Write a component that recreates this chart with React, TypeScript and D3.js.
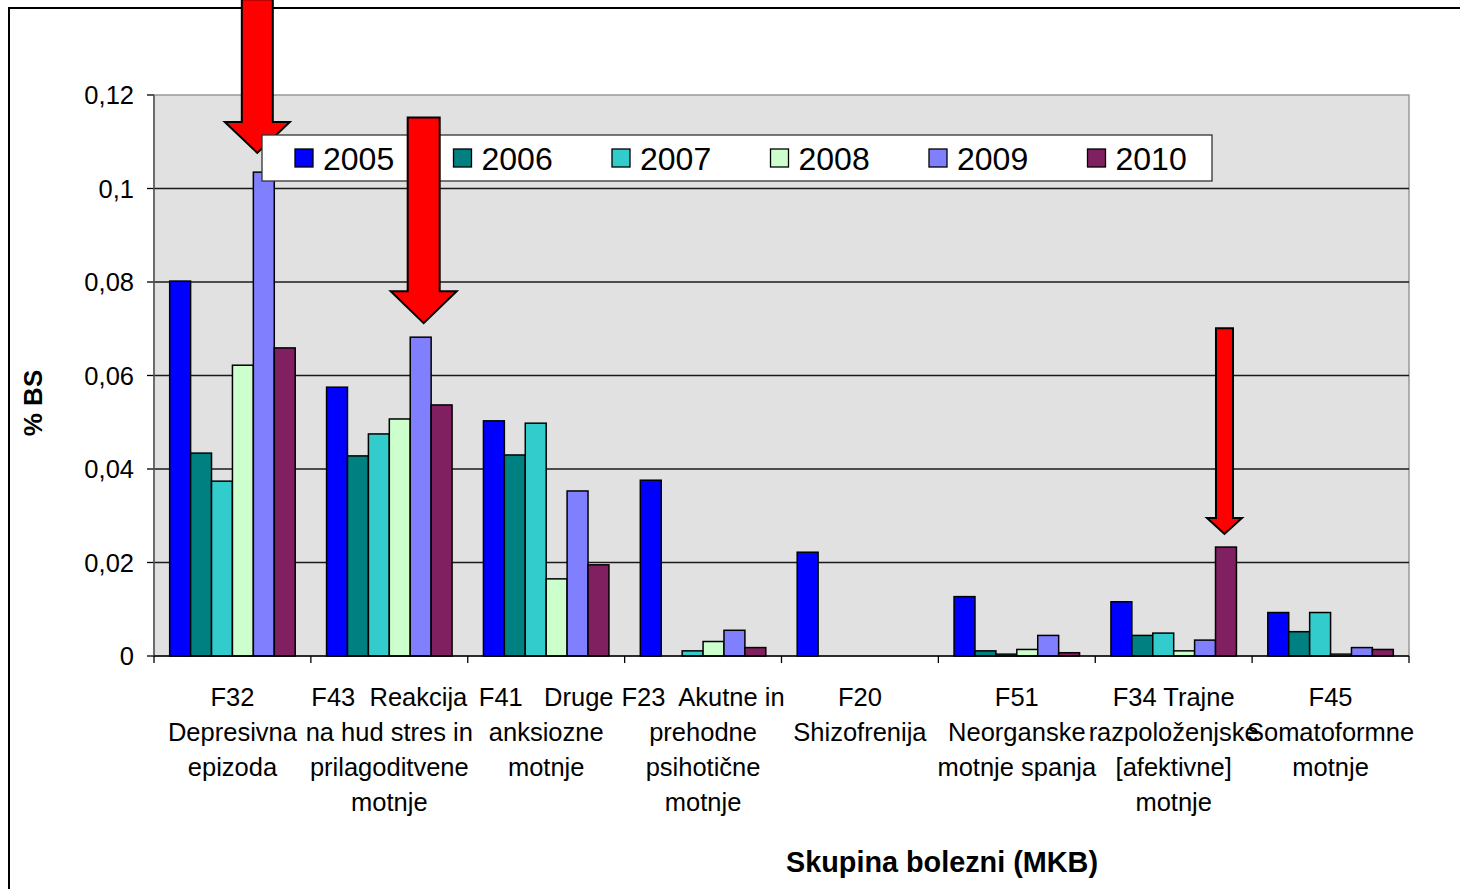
import React from 'react';
import * as d3 from 'd3';

const categories: string[][] = [
  ['F32', 'Depresivna', 'epizoda'],
  ['F43  Reakcija', 'na hud stres in', 'prilagoditvene', 'motnje'],
  ['F41   Druge', 'anksiozne', 'motnje'],
  ['F23  Akutne in', 'prehodne', 'psihotične', 'motnje'],
  ['F20', 'Shizofrenija'],
  ['F51', 'Neorganske', 'motnje spanja'],
  ['F34 Trajne', 'razpoloženjske', '[afektivne]', 'motnje'],
  ['F45', 'Somatoformne', 'motnje'],
];

const years = ['2005', '2006', '2007', '2008', '2009', '2010'];
const colors = ['#0000FF', '#008080', '#33CCCC', '#CCFFCC', '#8080FF', '#802060'];

const v2005 = [0.0802, 0.0575, 0.0503, 0.0376, 0.0222, 0.0127, 0.0116, 0.0093];
const v2006 = [0.0434, 0.0428, 0.043, 0, 0, 0.0011, 0.0044, 0.0052];
const v2007 = [0.0374, 0.0475, 0.0498, 0.0011, 0, 0.0004, 0.0049, 0.0093];
const v2008 = [0.0622, 0.0507, 0.0165, 0.0031, 0, 0.0014, 0.0011, 0.0004];
const v2009 = [0.1035, 0.0682, 0.0353, 0.0055, 0, 0.0044, 0.0034, 0.0018];
const v2010 = [0.0659, 0.0537, 0.0195, 0.0018, 0, 0.0007, 0.0233, 0.0014];
const series = [v2005, v2006, v2007, v2008, v2009, v2010];

const yTicks = [0, 0.02, 0.04, 0.06, 0.08, 0.1, 0.12];
const tickLabels = ['0', '0,02', '0,04', '0,06', '0,08', '0,1', '0,12'];

// arrows: category, year index, value at the tip, value at the top of the shaft
const arrows = [
  { cat: 0, yr: 4, tip: 0.1076, top: 0.1405, dx: -6.5, shaft: 31, head: 65, headLen: 31 },
  { cat: 1, yr: 4, tip: 0.0712, top: 0.1152, dx: 3, shaft: 32, head: 66, headLen: 32 },
  { cat: 6, yr: 5, tip: 0.0261, top: 0.0701, dx: -1.5, shaft: 17, head: 35, headLen: 16 },
];

const font = 'Arial, "Liberation Sans", sans-serif';

export default function App() {
  const left = 154;
  const right = 1409;
  const top = 95;
  const bottom = 656;

  const x0 = d3.scaleBand<number>().domain(d3.range(categories.length)).range([left, right]);
  const bw = x0.bandwidth();
  const x1 = d3.scaleBand<number>().domain(d3.range(years.length)).range([bw * 0.1, bw * 0.9]);
  const y = d3.scaleLinear().domain([0, 0.12]).range([bottom, top]);

  const arrowPath = (a: typeof arrows[number]) => {
    const cx = (x0(a.cat) ?? 0) + (x1(a.yr) ?? 0) + x1.bandwidth() / 2 + a.dx;
    const tipY = y(a.tip);
    const topY = y(a.top);
    const neck = tipY - a.headLen;
    const s = a.shaft / 2;
    const h = a.head / 2;
    return `M${cx - s},${topY} L${cx + s},${topY} L${cx + s},${neck} L${cx + h},${neck} L${cx},${tipY} L${cx - h},${neck} L${cx - s},${neck} Z`;
  };

  return (
    <svg
      width={1460}
      height={889}
      style={{ position: 'fixed', left: 0, top: 0, display: 'block', fontFamily: font, background: '#fff' }}
    >
      <rect x={9} y={8} width={1500} height={1000} fill="#fff" stroke="#000" strokeWidth={2} />
      <rect x={left} y={top} width={right - left} height={bottom - top} fill="#E1E1E1" stroke="#999" strokeWidth={1.5} />
      {yTicks.map((t, i) => (
        <g key={t}>
          {i > 0 && i < yTicks.length - 1 && (
            <line x1={left} x2={right} y1={y(t)} y2={y(t)} stroke="#1a1a1a" strokeWidth={1.3} />
          )}
          <line x1={left - 7} x2={left} y1={y(t)} y2={y(t)} stroke="#000" strokeWidth={1.3} />
          <text x={left - 20} y={y(t)} dy="0.36em" textAnchor="end" fontSize={25.5} fill="#000">
            {tickLabels[i]}
          </text>
        </g>
      ))}
      <line x1={left} x2={left} y1={top} y2={bottom} stroke="#555" strokeWidth={1.5} />
      {series.map((vals, si) => (
        <g key={years[si]}>
          {vals.map((v, ci) => (
            <rect
              key={ci}
              x={(x0(ci) ?? 0) + (x1(si) ?? 0)}
              y={y(v)}
              width={x1.bandwidth()}
              height={bottom - y(v)}
              fill={colors[si]}
              stroke="#000"
              strokeWidth={1.5}
            />
          ))}
        </g>
      ))}
      <line x1={left} x2={right} y1={bottom} y2={bottom} stroke="#000" strokeWidth={1.5} />
      {d3.range(categories.length + 1).map((i) => {
        const xx = left + i * bw;
        return <line key={i} x1={xx} x2={xx} y1={bottom} y2={bottom + 7} stroke="#000" strokeWidth={1.3} />;
      })}
      {categories.map((lines, ci) => (
        <text
          key={ci}
          x={(x0(ci) ?? 0) + bw / 2}
          textAnchor="middle"
          fontSize={25.5}
          fill="#000"
          style={{ whiteSpace: 'pre' }}
        >
          {lines.map((ln, li) => (
            <tspan key={li} x={(x0(ci) ?? 0) + bw / 2} y={706 + li * 35}>
              {ln}
            </tspan>
          ))}
        </text>
      ))}
      {/* first arrow sits under the legend */}
      <path d={arrowPath(arrows[0])} fill="#FF0000" stroke="#000" strokeWidth={2} />
      <rect x={262} y={135} width={950} height={46} fill="#fff" stroke="#333" strokeWidth={1.3} />
      {years.map((yr, i) => (
        <g key={yr} transform={`translate(${295 + i * 158.5},0)`}>
          <rect x={0} y={149} width={18} height={18} fill={colors[i]} stroke="#000" strokeWidth={1.3} />
          <text x={28} y={170} fontSize={32} fill="#000">
            {yr}
          </text>
        </g>
      ))}
      {arrows.slice(1).map((a, i) => (
        <path key={i} d={arrowPath(a)} fill="#FF0000" stroke="#000" strokeWidth={2} />
      ))}
      <text
        transform="translate(42,403) rotate(-90)"
        textAnchor="middle"
        fontSize={26}
        fontWeight="bold"
        fill="#000"
      >
        % BS
      </text>
      <text x={942} y={872} textAnchor="middle" fontSize={28.8} fontWeight="bold" fill="#000">
        Skupina bolezni (MKB)
      </text>
    </svg>
  );
}
